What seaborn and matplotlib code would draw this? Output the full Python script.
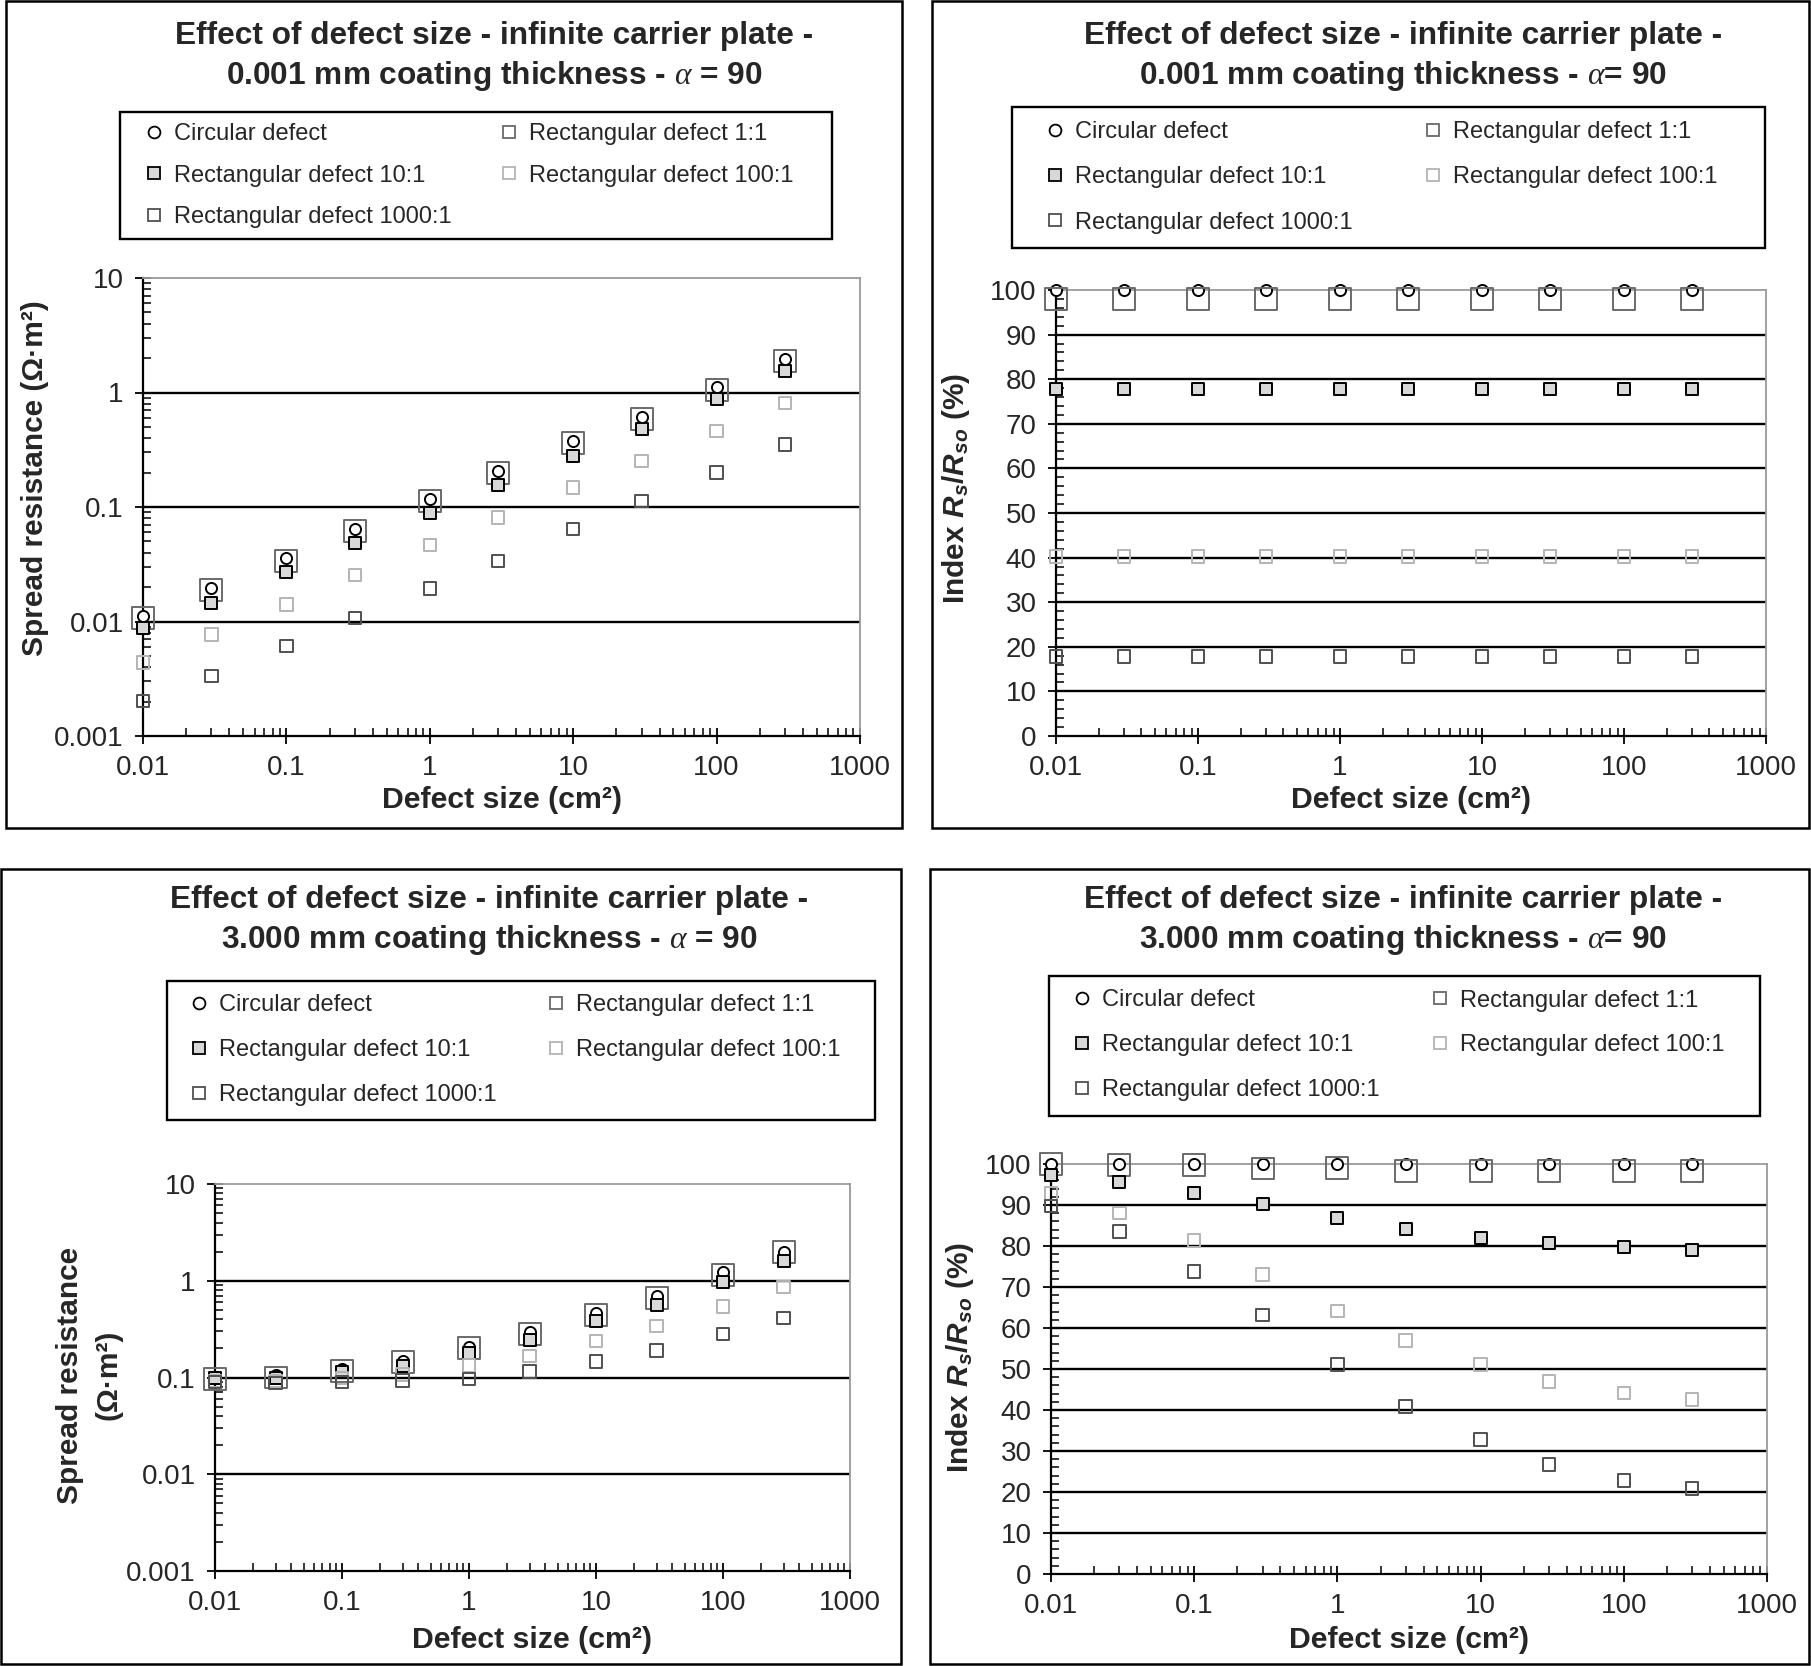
import numpy as np
import pandas as pd
import matplotlib
matplotlib.use("Agg")
import matplotlib.pyplot as plt
import matplotlib.ticker as mticker
import matplotlib.transforms as mtrans
from matplotlib import font_manager
from matplotlib.lines import Line2D
from matplotlib.patches import Rectangle
import seaborn as sns

# defect sizes (cm2), same for every panel
defect_size = [0.01, 0.03, 0.1, 0.3, 1, 3, 10, 30, 100, 300]

series_names = ["Circular defect", "Rectangular defect 1:1", "Rectangular defect 10:1",
                "Rectangular defect 100:1", "Rectangular defect 1000:1"]

# 0.001 mm coating - spread resistance (ohm m2)
thin_circular = [0.0112, 0.0196, 0.0355, 0.064, 0.117, 0.207, 0.377, 0.614, 1.11, 1.95]
thin_rect_1 = [0.0108, 0.0187, 0.034, 0.0615, 0.112, 0.198, 0.36, 0.59, 1.06, 1.88]
thin_rect_10 = [0.0088, 0.0146, 0.0268, 0.0484, 0.088, 0.155, 0.28, 0.48, 0.87, 1.54]
thin_rect_100 = [0.0044, 0.0077, 0.0141, 0.0254, 0.0467, 0.0813, 0.148, 0.252, 0.463, 0.813]
thin_rect_1000 = [0.00202, 0.00334, 0.00614, 0.0107, 0.0195, 0.0337, 0.064, 0.113, 0.2, 0.352]

# 0.001 mm coating - index Rs/Rso (%)
thin_idx_circular = [100, 100, 100, 100, 100, 100, 100, 100, 100, 100]
thin_idx_rect_1 = [98, 98, 98, 98, 98, 98, 98, 98, 98, 98]
thin_idx_rect_10 = [77.8, 77.8, 77.8, 77.8, 77.8, 77.8, 77.8, 77.8, 77.8, 77.8]
thin_idx_rect_100 = [40.2, 40.2, 40.2, 40.2, 40.2, 40.2, 40.2, 40.2, 40.2, 40.2]
thin_idx_rect_1000 = [17.8, 17.8, 17.8, 17.8, 17.8, 17.8, 17.8, 17.8, 17.8, 17.8]

# 3.000 mm coating - spread resistance (ohm m2)
thick_circular = [0.1, 0.105, 0.122, 0.148, 0.208, 0.294, 0.466, 0.695, 1.23, 2.0]
thick_rect_1 = [0.097, 0.1, 0.117, 0.145, 0.2, 0.283, 0.447, 0.67, 1.15, 2.0]
thick_rect_10 = [0.098, 0.1, 0.113, 0.133, 0.181, 0.247, 0.38, 0.56, 0.98, 1.6]
thick_rect_100 = [0.092, 0.092, 0.099, 0.108, 0.133, 0.166, 0.237, 0.34, 0.54, 0.86]
thick_rect_1000 = [0.09, 0.088, 0.09, 0.093, 0.097, 0.116, 0.147, 0.19, 0.28, 0.41]

# 3.000 mm coating - index Rs/Rso (%)
thick_idx_circular = [100, 100, 100, 100, 100, 100, 100, 100, 100, 100]
thick_idx_rect_1 = [100.1, 99.7, 99.7, 98.9, 99.1, 98.4, 98.4, 98.4, 98.4, 98.4]
thick_idx_rect_10 = [97.4, 95.6, 92.9, 90.2, 86.8, 84.1, 82.0, 80.7, 79.7, 79.1]
thick_idx_rect_100 = [92.8, 88.1, 81.3, 73.1, 64.2, 57.0, 51.1, 47.0, 44.2, 42.6]
thick_idx_rect_1000 = [89.7, 83.5, 73.8, 63.2, 51.1, 40.9, 32.8, 26.7, 22.8, 20.9]

x_ticks = [0.01, 0.1, 1, 10, 100, 1000]
log_y_ticks = [0.001, 0.01, 0.1, 1, 10]
lin_y_ticks = [0, 10, 20, 30, 40, 50, 60, 70, 80, 90, 100]

# marker styles: (marker, size, face, edge)
styles = {
    "Circular defect": ("o", 64, "white", "black"),
    "Rectangular defect 1:1": ("s", 250, "none", "#6a6a6a"),
    "Rectangular defect 10:1": ("s", 81, "#d8d8d8", "black"),
    "Rectangular defect 100:1": ("s", 81, "none", "#b4b4b4"),
    "Rectangular defect 1000:1": ("s", 81, "none", "#505050"),
}

W, H = 1811, 1666

sns.set_style("white")
names = {f.name for f in font_manager.fontManager.ttflist}
narrow = "Liberation Sans Narrow" if "Liberation Sans Narrow" in names else "Liberation Sans"
plt.rcParams["font.family"] = [narrow, "Liberation Sans", "DejaVu Sans"]
plt.rcParams["mathtext.fontset"] = "custom"
plt.rcParams["mathtext.it"] = "Liberation Serif:italic"
plt.rcParams["mathtext.rm"] = "Liberation Sans"
plt.rcParams["mathtext.sf"] = "Liberation Sans:bold:italic"
plt.rcParams["mathtext.bf"] = "Liberation Sans:bold"

fig = plt.figure(figsize=(W / 100, H / 100), dpi=100)


def fx(px):
    return px / W


def fy(py):
    return 1 - py / H


def make_df(values):
    rows = []
    for name, vals in zip(series_names, values):
        for xs, v in zip(defect_size, vals):
            rows.append({"size": xs, "value": v, "series": name})
    return pd.DataFrame(rows)


def draw_panel(box, values, log_y, title, ylabel, title_xy, ylabel_xy, xlabel_y, leg,
               ylabel_spacing=1.2):
    # box: axes (left, top, right, bottom) in pixels
    l, t, r, b = box
    ax = fig.add_axes([fx(l), fy(b), fx(r) - fx(l), fy(t) - fy(b)])
    df = make_df(values)
    for name in series_names:
        m, s, fc, ec = styles[name]
        sub = df[df["series"] == name]
        sns.scatterplot(data=sub, x="size", y="value", ax=ax, marker=m, s=s,
                        facecolor=fc, edgecolor=ec, linewidth=1.4, clip_on=False,
                        zorder=3, legend=False)
    ax.set_xscale("log")
    ax.set_xlim(0.01, 1000)
    ax.set_xticks(x_ticks)
    ax.xaxis.set_major_formatter(mticker.FuncFormatter(lambda v, p: f"{v:g}"))
    ax.xaxis.set_minor_locator(mticker.LogLocator(base=10, subs=range(2, 10), numticks=20))
    ax.xaxis.set_minor_formatter(mticker.NullFormatter())
    if log_y:
        ax.set_yscale("log")
        ax.set_ylim(0.001, 10)
        ax.set_yticks(log_y_ticks)
        ax.yaxis.set_major_formatter(mticker.FuncFormatter(lambda v, p: f"{v:g}"))
        ax.yaxis.set_minor_locator(mticker.LogLocator(base=10, subs=range(2, 10), numticks=20))
        ax.yaxis.set_minor_formatter(mticker.NullFormatter())
        grid_vals = log_y_ticks[1:-1]
    else:
        ax.set_ylim(0, 100)
        ax.set_yticks(lin_y_ticks)
        ax.yaxis.set_minor_locator(mticker.MultipleLocator(2))
        grid_vals = lin_y_ticks[1:-1]
    for g in grid_vals:
        ax.axhline(g, color="black", lw=1.7, zorder=1)

    ax.tick_params(which="major", direction="inout", length=12, width=1.3,
                   color="black", labelsize=20, left=True, bottom=True, pad=8)
    ax.tick_params(which="minor", direction="in", length=6, width=1.1,
                   color="black", left=True, bottom=True)
    for side in ["left", "bottom"]:
        ax.spines[side].set_color("black")
        ax.spines[side].set_linewidth(1.6)
    for side in ["top", "right"]:
        ax.spines[side].set_color("#9a9a9a")
        ax.spines[side].set_linewidth(1.3)

    ax.set_xlabel("Defect size (cm²)", fontsize=21.8, fontweight="bold")
    ax.xaxis.set_label_coords(0.5, fy(xlabel_y),
                              transform=mtrans.blended_transform_factory(ax.transAxes, fig.transFigure))
    ax.set_ylabel(ylabel, fontsize=21.5, fontweight="bold", family="Liberation Sans",
                  linespacing=ylabel_spacing)
    ax.yaxis.set_label_coords(fx(ylabel_xy[0]), fy(ylabel_xy[1]), transform=fig.transFigure)

    fig.text(fx(title_xy[0]), fy(title_xy[1]), title, ha="center", va="center", fontsize=22.8,
             fontweight="bold", linespacing=1.3)

    # legend: frame drawn separately, two single-column legends inside it
    (bx0, by0, bx1, by1), row1, col1_x, col2_x, pitch = leg
    fig.add_artist(Rectangle((fx(bx0), fy(by1)), fx(bx1) - fx(bx0), fy(by0) - fy(by1),
                             transform=fig.transFigure, fill=False, ec="black", lw=1.7))
    handles = {n: Line2D([], [], marker=styles[n][0], ls="none", markersize=8.5,
                         markerfacecolor=("white" if styles[n][2] == "none" else styles[n][2]),
                         markeredgecolor=styles[n][3], markeredgewidth=1.3)
               for n in series_names}
    fs = 17
    fs_px = fs * 100 / 72
    hl = 0.8
    spacing = (pitch - 0.915 * fs_px) / fs_px
    top = row1 - 0.36 * fs_px
    legs = []
    for cx, cols in [(col1_x, [0, 2, 4]), (col2_x, [1, 3])]:
        lg = ax.legend([handles[series_names[i]] for i in cols], [series_names[i] for i in cols],
                       loc="upper left", bbox_to_anchor=(fx(cx - hl * fs_px / 2), fy(top)),
                       bbox_transform=fig.transFigure, fontsize=fs, frameon=False,
                       borderpad=0, borderaxespad=0, labelspacing=spacing,
                       handlelength=hl, handletextpad=0.45)
        legs.append(lg)
    ax.add_artist(legs[0])
    return ax


# top left
draw_panel((143, 278, 860, 736),
           [thin_circular, thin_rect_1, thin_rect_10, thin_rect_100, thin_rect_1000], True,
           "Effect of defect size - infinite carrier plate -\n0.001 mm coating thickness - $\\alpha$ = 90",
           "Spread resistance (Ω·m²)", (494, 57), (49, 478), 786,
           ((120, 112, 832, 239), 131.7, 153.6, 509.4, 41))

# top right
draw_panel((1056, 290, 1766, 736),
           [thin_idx_circular, thin_idx_rect_1, thin_idx_rect_10, thin_idx_rect_100, thin_idx_rect_1000],
           False,
           "Effect of defect size - infinite carrier plate -\n0.001 mm coating thickness - $\\alpha$= 90",
           "Index $\\mathsf{R_s}$/$\\mathsf{R_{so}}$ (%)", (1403, 57), (972, 488), 786,
           ((1012, 107, 1765, 248), 129.4, 1054.7, 1433, 45))

# bottom left
draw_panel((215, 1184, 850, 1571),
           [thick_circular, thick_rect_1, thick_rect_10, thick_rect_100, thick_rect_1000], True,
           "Effect of defect size - infinite carrier plate -\n3.000 mm coating thickness - $\\alpha$ = 90",
           "Spread resistance\n(Ω·m²)", (489, 921), (123, 1375), 1626,
           ((167, 981, 875, 1120), 1002.5, 198.7, 555.6, 44.5), ylabel_spacing=1.5)

# bottom right
draw_panel((1051, 1164, 1767, 1574),
           [thick_idx_circular, thick_idx_rect_1, thick_idx_rect_10, thick_idx_rect_100, thick_idx_rect_1000],
           False,
           "Effect of defect size - infinite carrier plate -\n3.000 mm coating thickness - $\\alpha$= 90",
           "Index $\\mathsf{R_s}$/$\\mathsf{R_{so}}$ (%)", (1403, 921), (976, 1357), 1626,
           ((1049, 976, 1760, 1116), 998, 1082, 1440, 44.5))

# panel frames
for x0, y0, x1, y1 in [(6, 1, 902, 828), (932, 1, 1809, 828), (1, 869, 901, 1664), (930, 869, 1809, 1664)]:
    fig.add_artist(Rectangle((fx(x0), fy(y1)), fx(x1) - fx(x0), fy(y0) - fy(y1),
                             transform=fig.transFigure, fill=False, ec="black", lw=1.8))

fig.savefig("out.png", dpi=100)
